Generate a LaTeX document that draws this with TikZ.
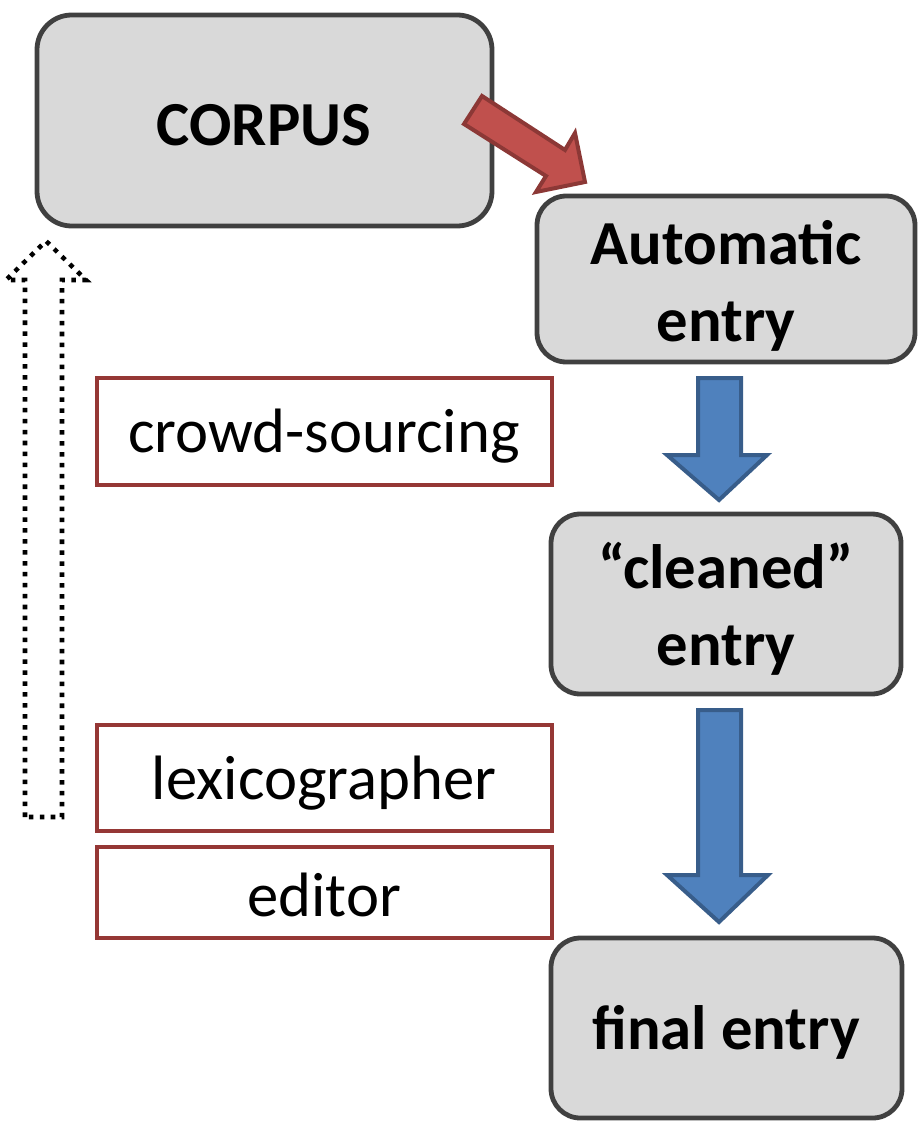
\documentclass[tikz,border=0pt]{standalone}
\usepackage{fontspec}
\setmainfont{Carlito}
\definecolor{boxfill}{HTML}{D9D9D9}
\definecolor{boxline}{HTML}{404040}
\definecolor{redline}{HTML}{953735}
\definecolor{redfill}{HTML}{C0504D}
\definecolor{redarrline}{HTML}{8C3836}
\definecolor{bluefill}{HTML}{4F81BD}
\definecolor{blueline}{HTML}{385D8A}
\begin{document}
\begin{tikzpicture}[x=0.75pt,y=-0.75pt,
  gbox/.style={draw=boxline,fill=boxfill,line width=3.6pt,rounded corners=22pt},
  lbl/.style={draw=redline,line width=2.4pt,fill=white},
  bigtxt/.style={font=\fontsize{47}{58}\selectfont\bfseries,align=center},
  smalltxt/.style={font=\fontsize{47}{58}\selectfont},
  bluearr/.style={fill=bluefill,draw=blueline,line width=3pt,line join=miter},
  redarr/.style={fill=redfill,draw=redarrline,line width=3pt,line join=miter},
  dotarr/.style={draw=black,line width=3.4pt,dash pattern=on 3.4pt off 4.8pt}]
\useasboundingbox (0,0) rectangle (924,1124);
% boxes
\draw[gbox,rounded corners=26pt] (37,15) rectangle (492,226);
\node[bigtxt] (corpus) at (264,125) {CORPUS};
\draw[gbox] (537,196) rectangle (915,362);
\node[bigtxt] (auto) at (726,286) {Automatic\\entry};
\draw[gbox] (551,514) rectangle (901,694);
\node[bigtxt] (clean) at (726,609) {“cleaned”\\entry};
\draw[gbox] (551,938) rectangle (902,1118);
\node[bigtxt] (final) at (726,1032) {final entry};
% label boxes
\draw[lbl] (97,378) rectangle (552,485);
\node[smalltxt] (crowd) at (324,436) {crowd-sourcing};
\draw[lbl] (97,725) rectangle (552,831);
\node[smalltxt] (lexi) at (324,783) {lexicographer};
\draw[lbl] (97,847) rectangle (552,938);
\node[smalltxt] (edit) at (324,895) {editor};
% blue arrows
\draw[bluearr] (698,378) -- (741,378) -- (741,455) -- (767,455) -- (719,500) -- (667,455) -- (698,455) -- cycle;
\draw[bluearr] (698,710) -- (741,710) -- (741,875) -- (768,875) -- (719,922) -- (667,875) -- (698,875) -- cycle;
% red arrow
\draw[redarr] (482,96) -- (565,150) -- (575,133) -- (585,182) -- (536,192) -- (546,176) -- (464,124) -- cycle;
% dotted hollow arrow
\draw[dotarr] (25,817) -- (25,280) -- (6,280) -- (46,241) -- (86,280) -- (62,280) -- (62,817) -- cycle;
\end{tikzpicture}
\end{document}
